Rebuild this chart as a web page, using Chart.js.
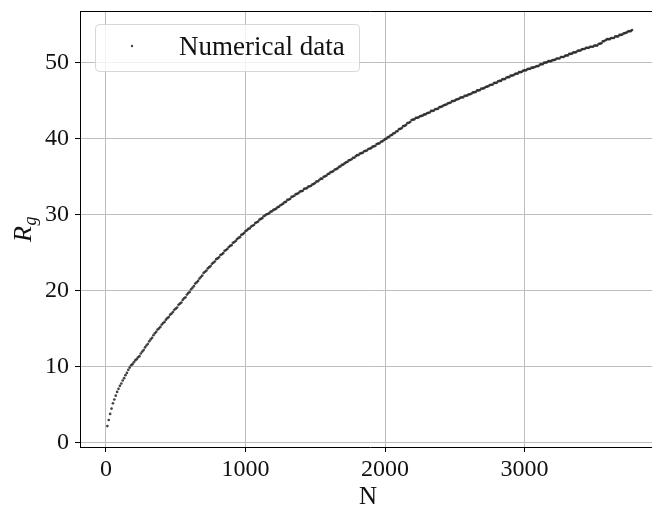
<!DOCTYPE html>
<html><head><meta charset="utf-8">
<script src="https://cdn.jsdelivr.net/npm/chart.js@4.4.0/dist/chart.umd.min.js"></script>
<style>
html,body{margin:0;padding:0;background:#fff;overflow:hidden;width:652px;height:512px}
#wrap{width:662px;height:512px}
</style></head>
<body><div id="wrap"><canvas id="c" width="662" height="512"></canvas></div>
<script>
const N = [
  10,20,30,40,50,60,70,80,90,100,
  110,120,130,140,150,160,170,180,190,200,
  210,220,230,240,250,260,270,280,290,300,
  310,320,330,340,350,360,370,380,390,400,
  410,420,430,440,450,460,470,480,490,500,
  510,520,530,540,550,560,570,580,590,600,
  610,620,630,640,650,660,670,680,690,700,
  710,720,730,740,750,760,770,780,790,800,
  810,820,830,840,850,860,870,880,890,900,
  910,920,930,940,950,960,970,980,990,1000,
  1010,1020,1030,1040,1050,1060,1070,1080,1090,1100,
  1110,1120,1130,1140,1150,1160,1170,1180,1190,1200,
  1210,1220,1230,1240,1250,1260,1270,1280,1290,1300,
  1310,1320,1330,1340,1350,1360,1370,1380,1390,1400,
  1410,1420,1430,1440,1450,1460,1470,1480,1490,1500,
  1510,1520,1530,1540,1550,1560,1570,1580,1590,1600,
  1610,1620,1630,1640,1650,1660,1670,1680,1690,1700,
  1710,1720,1730,1740,1750,1760,1770,1780,1790,1800,
  1810,1820,1830,1840,1850,1860,1870,1880,1890,1900,
  1910,1920,1930,1940,1950,1960,1970,1980,1990,2000,
  2010,2020,2030,2040,2050,2060,2070,2080,2090,2100,
  2110,2120,2130,2140,2150,2160,2170,2180,2190,2200,
  2210,2220,2230,2240,2250,2260,2270,2280,2290,2300,
  2310,2320,2330,2340,2350,2360,2370,2380,2390,2400,
  2410,2420,2430,2440,2450,2460,2470,2480,2490,2500,
  2510,2520,2530,2540,2550,2560,2570,2580,2590,2600,
  2610,2620,2630,2640,2650,2660,2670,2680,2690,2700,
  2710,2720,2730,2740,2750,2760,2770,2780,2790,2800,
  2810,2820,2830,2840,2850,2860,2870,2880,2890,2900,
  2910,2920,2930,2940,2950,2960,2970,2980,2990,3000,
  3010,3020,3030,3040,3050,3060,3070,3080,3090,3100,
  3110,3120,3130,3140,3150,3160,3170,3180,3190,3200,
  3210,3220,3230,3240,3250,3260,3270,3280,3290,3300,
  3310,3320,3330,3340,3350,3360,3370,3380,3390,3400,
  3410,3420,3430,3440,3450,3460,3470,3480,3490,3500,
  3510,3520,3530,3540,3550,3560,3570,3580,3590,3600,
  3610,3620,3630,3640,3650,3660,3670,3680,3690,3700,
  3710,3720,3730,3740,3750,3760,3770
];
const Rg = [
  2.2,3.0,3.8,4.5,5.2,5.7,6.2,6.7,7.1,7.5,
  7.8,8.2,8.5,8.9,9.2,9.6,9.9,10.2,10.35,10.6,
  10.85,11.0,11.25,11.4,11.75,12.0,12.2,12.55,12.8,13.0,
  13.35,13.6,13.8,14.15,14.4,14.6,14.9,15.05,15.25,15.55,
  15.75,15.9,16.2,16.4,16.55,16.85,17.0,17.2,17.5,17.65,
  17.8,18.15,18.3,18.45,18.8,19.0,19.15,19.5,19.7,19.85,
  20.2,20.4,20.6,20.95,21.1,21.3,21.6,21.8,22.0,22.35,
  22.5,22.65,22.95,23.1,23.25,23.55,23.7,23.85,24.15,24.25,
  24.4,24.7,24.8,24.95,25.25,25.35,25.5,25.75,25.9,26.0,
  26.3,26.4,26.55,26.8,26.95,27.05,27.35,27.45,27.6,27.85,
  27.95,28.15,28.2,28.45,28.55,28.65,28.9,29.0,29.1,29.35,
  29.45,29.55,29.8,29.9,30.05,30.1,30.2,30.4,30.45,30.65,
  30.7,30.8,31.0,31.05,31.25,31.35,31.45,31.65,31.7,31.95,
  32.0,32.1,32.35,32.4,32.5,32.7,32.75,32.85,33.05,33.1,
  33.15,33.4,33.45,33.5,33.7,33.75,33.8,34.0,34.05,34.2,
  34.4,34.4,34.6,34.75,34.75,35.0,35.05,35.15,35.35,35.4,
  35.6,35.65,35.75,35.95,36.0,36.1,36.3,36.35,36.55,36.6,
  36.75,36.9,36.95,37.15,37.2,37.3,37.5,37.5,37.7,37.85,
  37.85,38.05,38.1,38.15,38.35,38.4,38.45,38.65,38.7,38.75,
  38.95,39.0,39.05,39.3,39.35,39.4,39.6,39.65,39.8,39.95,
  40.0,40.2,40.25,40.45,40.5,40.7,40.75,40.95,41.0,41.25,
  41.3,41.4,41.65,41.7,41.8,42.05,42.1,42.2,42.45,42.5,
  42.55,42.75,42.75,42.8,42.95,43.0,43.05,43.2,43.2,43.35,
  43.4,43.45,43.65,43.65,43.7,43.9,43.9,43.95,44.15,44.2,
  44.25,44.4,44.45,44.5,44.65,44.7,44.75,44.95,44.95,45.0,
  45.15,45.2,45.25,45.4,45.45,45.45,45.65,45.65,45.7,45.85,
  45.85,45.95,46.1,46.1,46.15,46.35,46.35,46.4,46.6,46.6,
  46.65,46.8,46.85,46.9,47.05,47.1,47.1,47.3,47.35,47.35,
  47.55,47.6,47.6,47.8,47.85,47.85,48.05,48.1,48.1,48.3,
  48.3,48.35,48.5,48.55,48.55,48.75,48.75,48.8,48.95,49.0,
  49.0,49.15,49.2,49.2,49.35,49.35,49.4,49.5,49.55,49.55,
  49.75,49.8,49.8,50.0,50.0,50.05,50.2,50.2,50.2,50.35,
  50.35,50.4,50.55,50.55,50.55,50.75,50.75,50.75,50.9,50.95,
  50.95,51.15,51.15,51.2,51.35,51.35,51.4,51.55,51.6,51.6,
  51.75,51.8,51.8,51.95,51.95,51.95,52.1,52.1,52.1,52.25,
  52.25,52.25,52.45,52.5,52.55,52.8,52.85,52.95,53.1,53.1,
  53.1,53.25,53.25,53.25,53.45,53.45,53.45,53.65,53.65,53.7,
  53.85,53.9,53.95,54.1,54.15,54.15,54.3
];
const xTicks = [0, 1000, 2000, 3000];
const yTicks = [0, 10, 20, 30, 40, 50];
const seriesLabel = 'Numerical data';
const xTitle = 'N';
const yTitleMain = 'R';
const yTitleSub = 'g';

const SERIF = '"Liberation Serif", "DejaVu Serif", serif';
const points = N.map((n, i) => ({ x: n, y: Rg[i] }));

const overlay = {
  id: 'overlay',
  afterDraw(chart) {
    const { ctx, chartArea: a } = chart;
    ctx.save();
    // top spine
    ctx.strokeStyle = '#000';
    ctx.lineWidth = 1;
    ctx.beginPath();
    ctx.moveTo(a.left, a.top + 0.5);
    ctx.lineTo(a.right, a.top + 0.5);
    ctx.stroke();

    // legend box
    const lx = 95.5, ly = 24.5, lw = 264, lh = 47, r = 4;
    ctx.beginPath();
    ctx.moveTo(lx + r, ly);
    ctx.lineTo(lx + lw - r, ly);
    ctx.arcTo(lx + lw, ly, lx + lw, ly + r, r);
    ctx.lineTo(lx + lw, ly + lh - r);
    ctx.arcTo(lx + lw, ly + lh, lx + lw - r, ly + lh, r);
    ctx.lineTo(lx + r, ly + lh);
    ctx.arcTo(lx, ly + lh, lx, ly + lh - r, r);
    ctx.lineTo(lx, ly + r);
    ctx.arcTo(lx, ly, lx + r, ly, r);
    ctx.closePath();
    ctx.fillStyle = 'rgba(255,255,255,0.8)';
    ctx.fill();
    ctx.strokeStyle = '#d6d6d6';
    ctx.stroke();
    // legend marker
    ctx.fillStyle = '#444';
    ctx.beginPath();
    ctx.arc(132, 46, 1.2, 0, Math.PI * 2);
    ctx.fill();
    // legend text
    ctx.fillStyle = '#111';
    ctx.font = '27px ' + SERIF;
    ctx.textAlign = 'left';
    ctx.textBaseline = 'alphabetic';
    ctx.fillText(seriesLabel, 179, 55);

    // x title
    ctx.textAlign = 'center';
    ctx.font = '25px ' + SERIF;
    ctx.fillText(xTitle, 368, 504);

    // y title (rotated)
    ctx.save();
    ctx.translate(31, 242);
    ctx.rotate(-Math.PI / 2);
    ctx.textAlign = 'left';
    ctx.font = 'italic 26px ' + SERIF;
    ctx.fillText(yTitleMain, 0, 0);
    const w = ctx.measureText(yTitleMain).width;
    ctx.font = 'italic 18px ' + SERIF;
    ctx.fillText(yTitleSub, w + 0.5, 5);
    ctx.restore();

    ctx.restore();
  }
};

new Chart(document.getElementById('c'), {
  type: 'scatter',
  data: {
    datasets: [{
      label: seriesLabel,
      data: points,
      pointRadius: 1.35,
      pointHoverRadius: 1.35,
      pointBorderWidth: 0,
      pointBackgroundColor: 'rgba(35,35,35,0.85)',
      showLine: false
    }]
  },
  options: {
    responsive: false,
    animation: false,
    events: [],
    layout: { padding: { top: 11, left: 0, right: 0, bottom: 0 } },
    plugins: { legend: { display: false }, tooltip: { enabled: false } },
    scales: {
      x: {
        type: 'linear',
        min: -186,
        max: 3975,
        afterBuildTicks(s) { s.ticks = xTicks.map(v => ({ value: v })); },
        afterFit(s) { s.height = 65; s.paddingLeft = 0; s.paddingRight = 0; },
        grid: { color: '#bdbdbd', lineWidth: 1, tickLength: 5, tickColor: '#000', drawTicks: true },
        border: { display: true, color: '#000', width: 1 },
        ticks: { color: '#111', padding: 3, font: { family: SERIF, size: 24 }, maxRotation: 0, autoSkip: false, callback: v => String(v) }
      },
      y: {
        type: 'linear',
        min: -0.55,
        max: 56.8,
        afterBuildTicks(s) { s.ticks = yTicks.map(v => ({ value: v })); },
        afterFit(s) { s.width = 80; s.paddingTop = 0; s.paddingBottom = 0; },
        grid: { color: '#bdbdbd', lineWidth: 1, tickLength: 5, tickColor: '#000', drawTicks: true },
        border: { display: true, color: '#000', width: 1 },
        ticks: { color: '#111', padding: 6, font: { family: SERIF, size: 24 }, autoSkip: false, callback: v => String(v) }
      }
    }
  },
  plugins: [overlay]
});
</script>
</body></html>
